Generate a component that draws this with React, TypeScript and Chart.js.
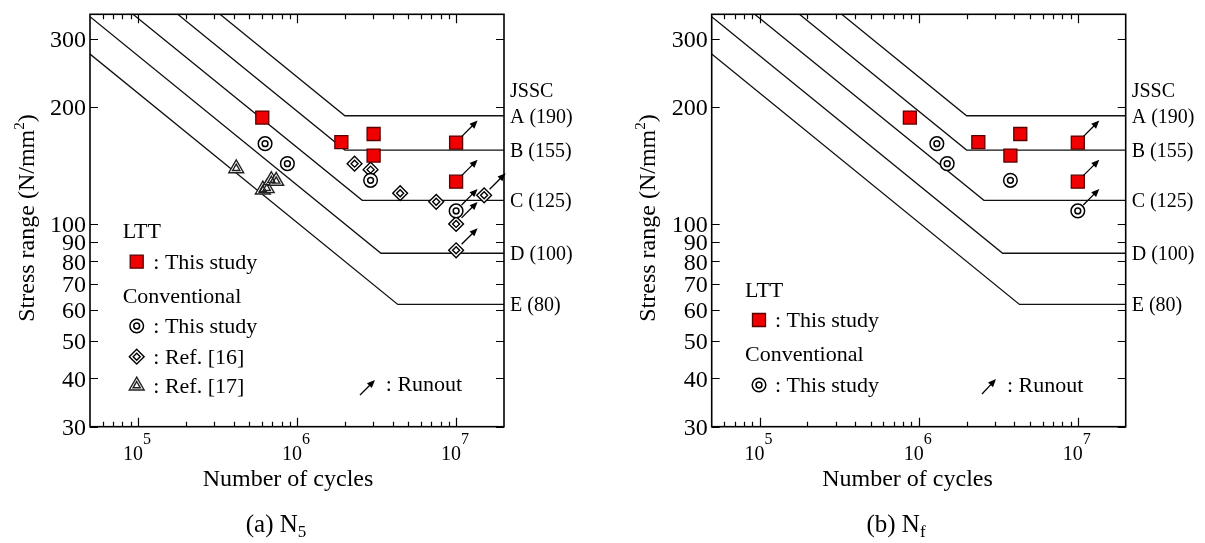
import { useEffect, useRef } from 'react';
import { Chart, registerables } from 'chart.js';

Chart.register(...registerables);

const SERIF = '"Liberation Serif", "Times New Roman", Times, serif';

// Axis ranges and tick values
const xMin = 5e4;
const xMax = 2e7;
const yMin = 30;
const yMax = 347;
const xMajorTicks = [1e5, 1e6, 1e7];
const xTickExponents = ['5', '6', '7'];
const xMinorTicks = [6e4, 7e4, 8e4, 9e4, 2e5, 3e5, 4e5, 5e5, 6e5, 7e5, 8e5, 9e5, 2e6, 3e6, 4e6, 5e6, 6e6, 7e6, 8e6, 9e6];
const yTicks = [30, 40, 50, 60, 70, 80, 90, 100, 200, 300];

// JSSC fatigue design classes
const classLabels = ['A (190)', 'B (155)', 'C (125)', 'D (100)', 'E (80)'];
const classCutoff = [190, 155, 115, 84, 62];
const classA_N = [5e4, 2e6, 2e7];
const classA_S = [650, 190, 190];
const classB_N = [5e4, 2e6, 2e7];
const classB_S = [530, 155, 155];
const classC_N = [5e4, 2.57e6, 2e7];
const classC_S = [427, 115, 115];
const classD_N = [5e4, 3.37e6, 2e7];
const classD_S = [342, 84, 84];
const classE_N = [5e4, 4.3e6, 2e7];
const classE_S = [274, 62, 62];

// LTT welded joints, this study
const lttS = [188, 162.5, 170.5, 150, 162, 128.5];
const lttN5 = [6.05e5, 1.9e6, 3.03e6, 3.03e6, 1.0e7, 1.0e7];
const lttNf = [8.8e5, 2.37e6, 4.35e6, 3.77e6, 1.0e7, 1.0e7];
const lttRunout = [false, false, false, false, true, true];

// Conventional welded joints, this study
const convS = [161, 143, 129.5, 108];
const convN5 = [6.3e5, 8.7e5, 2.9e6, 1.0e7];
const convNf = [1.3e6, 1.51e6, 3.77e6, 1.0e7];
const convRunout = [false, false, false, true];

// Conventional joints, Ref. [16]
const ref16S = [143, 138, 120, 114, 118.5, 100, 85.5];
const ref16N5 = [2.3e6, 2.9e6, 4.45e6, 7.5e6, 1.5e7, 1.0e7, 1.0e7];
const ref16Runout = [false, false, false, false, true, true, true];

// Conventional joints, Ref. [17]
const ref17S = [139, 122.5, 123.5, 129.5, 129];
const ref17N5 = [4.15e5, 6.1e5, 6.45e5, 6.9e5, 7.4e5];
const ref17Runout = [false, false, false, false, false];

type MarkerKind = 'square' | 'circle' | 'diamond' | 'triangle';

interface MarkerLayer {
  style: 'rect' | 'circle' | 'rectRot' | 'triangle';
  r: number;
  fill: string;
  stroke: string;
  lw: number;
}

// Each symbol is an outer shape plus (for open symbols) a smaller inner outline
const markerLayers: Record<MarkerKind, MarkerLayer[]> = {
  square: [{ style: 'rect', r: 9.2, fill: '#f00000', stroke: '#5a0000', lw: 1.3 }],
  circle: [
    { style: 'circle', r: 6.8, fill: '#ffffff', stroke: '#000000', lw: 1.5 },
    { style: 'circle', r: 2.9, fill: 'rgba(0,0,0,0)', stroke: '#000000', lw: 1.5 },
  ],
  diamond: [
    { style: 'rectRot', r: 7.4, fill: '#ffffff', stroke: '#000000', lw: 1.4 },
    { style: 'rectRot', r: 3.5, fill: 'rgba(0,0,0,0)', stroke: '#000000', lw: 1.4 },
  ],
  triangle: [
    { style: 'triangle', r: 8.6, fill: '#ffffff', stroke: '#222222', lw: 1.4 },
    { style: 'triangle', r: 4.2, fill: 'rgba(0,0,0,0)', stroke: '#222222', lw: 1.4 },
  ],
};

function drawLayer(ctx: CanvasRenderingContext2D, L: MarkerLayer, x: number, y: number) {
  ctx.beginPath();
  if (L.style === 'circle') {
    ctx.arc(x, y, L.r, 0, Math.PI * 2);
  } else if (L.style === 'rect') {
    const h = L.r * Math.SQRT1_2;
    ctx.rect(x - h, y - h, 2 * h, 2 * h);
  } else if (L.style === 'rectRot') {
    ctx.moveTo(x - L.r, y);
    ctx.lineTo(x, y - L.r);
    ctx.lineTo(x + L.r, y);
    ctx.lineTo(x, y + L.r);
    ctx.closePath();
  } else {
    const s = Math.sin((2 * Math.PI) / 3) * L.r;
    ctx.moveTo(x, y - L.r);
    ctx.lineTo(x + s, y + L.r / 2);
    ctx.lineTo(x - s, y + L.r / 2);
    ctx.closePath();
  }
  ctx.fillStyle = L.fill;
  ctx.fill();
  ctx.strokeStyle = L.stroke;
  ctx.lineWidth = L.lw;
  ctx.stroke();
}

interface SeriesSpec {
  n: number[];
  s: number[];
  runout: boolean[];
  marker: MarkerKind;
}

interface LegendItem {
  text: string;
  tx: number;
  ty: number;
  marker?: MarkerKind;
  mx?: number;
  my?: number;
}

interface PanelSpec {
  left: number;
  width: number;
  padding: { left: number; right: number; top: number; bottom: number };
  series: SeriesSpec[];
  legend: LegendItem[];
  runoutKey: { x0: number; y0: number; x1: number; y1: number; tx: number; ty: number };
  yTitleX: number;
  yTitleY: number;
  xTitleX: number;
  caption: string;
  captionSub: string;
  captionX: number;
}

function drawArrow(ctx: CanvasRenderingContext2D, x0: number, y0: number, x1: number, y1: number) {
  const ang = Math.atan2(y1 - y0, x1 - x0);
  const hl = 8;
  const hw = 3.4;
  const bx = x1 - hl * Math.cos(ang);
  const by = y1 - hl * Math.sin(ang);
  ctx.beginPath();
  ctx.moveTo(x0, y0);
  ctx.lineTo(bx + Math.cos(ang), by + Math.sin(ang));
  ctx.stroke();
  ctx.beginPath();
  ctx.moveTo(x1, y1);
  ctx.lineTo(bx + hw * Math.sin(ang), by - hw * Math.cos(ang));
  ctx.lineTo(bx - hw * Math.sin(ang), by + hw * Math.cos(ang));
  ctx.closePath();
  ctx.fill();
}

// Draws text pieces in a row; each piece has its own font size and baseline shift
function drawRich(
  ctx: CanvasRenderingContext2D,
  parts: { t: string; size: number; dy: number }[],
  cx: number,
  baseY: number,
) {
  let total = 0;
  const widths = parts.map((p) => {
    ctx.font = `${p.size}px ${SERIF}`;
    const w = ctx.measureText(p.t).width;
    total += w;
    return w;
  });
  let x = cx - total / 2;
  ctx.textAlign = 'left';
  ctx.textBaseline = 'alphabetic';
  parts.forEach((p, i) => {
    ctx.font = `${p.size}px ${SERIF}`;
    ctx.fillText(p.t, x, baseY + p.dy);
    x += widths[i];
  });
}

function overlayPlugin(spec: PanelSpec) {
  return {
    id: 'snOverlay',
    afterDatasetsDraw(chart: Chart) {
      const ctx = chart.ctx;
      const xs = chart.scales.x;
      const ys = chart.scales.y;
      ctx.save();
      ctx.strokeStyle = '#000';
      ctx.fillStyle = '#000';
      ctx.lineWidth = 1.3;
      spec.series.forEach((sr) => {
        sr.n.forEach((n, i) => {
          if (!sr.runout[i]) return;
          const px = xs.getPixelForValue(n);
          const py = ys.getPixelForValue(sr.s[i]);
          drawArrow(ctx, px + 5.5, py - 6, px + 21.5, py - 22);
        });
      });
      ctx.restore();
    },
    afterDraw(chart: Chart) {
      const ctx = chart.ctx;
      const a = chart.chartArea;
      const xs = chart.scales.x;
      const ys = chart.scales.y;
      ctx.save();

      // frame
      ctx.strokeStyle = '#000';
      ctx.lineWidth = 1.6;
      ctx.strokeRect(a.left, a.top, a.right - a.left, a.bottom - a.top);

      // inward tick marks
      ctx.lineWidth = 1.2;
      ctx.beginPath();
      const xTick = (v: number, len: number) => {
        const px = Math.round(xs.getPixelForValue(v)) + 0.5;
        ctx.moveTo(px, a.bottom);
        ctx.lineTo(px, a.bottom - len);
        ctx.moveTo(px, a.top);
        ctx.lineTo(px, a.top + len);
      };
      xMajorTicks.forEach((v) => xTick(v, 9));
      xMinorTicks.forEach((v) => xTick(v, 5));
      yTicks.forEach((v) => {
        const py = Math.round(ys.getPixelForValue(v)) + 0.5;
        ctx.moveTo(a.left, py);
        ctx.lineTo(a.left + 8, py);
        ctx.moveTo(a.right, py);
        ctx.lineTo(a.right - 8, py);
      });
      ctx.stroke();

      ctx.fillStyle = '#000';
      // y tick labels
      ctx.font = `24px ${SERIF}`;
      ctx.textAlign = 'right';
      ctx.textBaseline = 'alphabetic';
      yTicks.forEach((v) => {
        ctx.fillText(String(v), a.left - 4, ys.getPixelForValue(v) + 8.3);
      });

      // x tick labels: 10 with exponent
      xMajorTicks.forEach((v, i) => {
        const px = xs.getPixelForValue(v);
        drawRich(
          ctx,
          [
            { t: '10', size: 20, dy: 0 },
            { t: xTickExponents[i], size: 16, dy: -16 },
          ],
          px - 1,
          a.bottom + 33.5,
        );
      });

      // axis titles
      drawRich(ctx, [{ t: 'Number of cycles', size: 24, dy: 0 }], spec.xTitleX, a.bottom + 59.5);
      ctx.save();
      ctx.translate(spec.yTitleX, spec.yTitleY);
      ctx.rotate(-Math.PI / 2);
      drawRich(
        ctx,
        [
          { t: 'Stress range (N/mm', size: 24, dy: 0 },
          { t: '2', size: 15, dy: -10 },
          { t: ')', size: 24, dy: 0 },
        ],
        0,
        0,
      );
      ctx.restore();

      // class labels on the right
      ctx.textAlign = 'left';
      ctx.font = `20px ${SERIF}`;
      ctx.fillText('JSSC', a.right + 6, ys.getPixelForValue(classCutoff[0]) - 19);
      classLabels.forEach((lab, i) => {
        ctx.fillText(lab, a.right + 6, ys.getPixelForValue(classCutoff[i]) + 7);
      });

      // legend
      ctx.font = `22px ${SERIF}`;
      spec.legend.forEach((it) => {
        if (it.marker) {
          markerLayers[it.marker].forEach((L) => drawLayer(ctx, L, it.mx!, it.my!));
        }
        ctx.fillStyle = '#000';
        ctx.textAlign = 'left';
        ctx.font = `22px ${SERIF}`;
        ctx.fillText(it.text, it.tx, it.ty);
      });
      const rk = spec.runoutKey;
      ctx.strokeStyle = '#000';
      ctx.fillStyle = '#000';
      ctx.lineWidth = 1.3;
      drawArrow(ctx, rk.x0, rk.y0, rk.x1, rk.y1);
      ctx.font = `22px ${SERIF}`;
      ctx.fillText(': Runout', rk.tx, rk.ty);

      // panel caption
      drawRich(
        ctx,
        [
          { t: spec.caption, size: 25, dy: 0 },
          { t: spec.captionSub, size: 17, dy: 5 },
        ],
        spec.captionX,
        532,
      );
      ctx.restore();
    },
  };
}

function buildDatasets(spec: PanelSpec) {
  const classLines = [
    [classA_N, classA_S],
    [classB_N, classB_S],
    [classC_N, classC_S],
    [classD_N, classD_S],
    [classE_N, classE_S],
  ];
  const lines = classLines.map(([n, s]) => ({
    data: n.map((v, i) => ({ x: v, y: s[i] })),
    showLine: true,
    borderColor: '#111',
    borderWidth: 1.3,
    pointRadius: 0,
    fill: false,
    order: 2,
  }));
  // one dataset per marker layer; later layers drawn on top of earlier ones
  const points: any[] = [];
  spec.series.forEach((sr) => {
    markerLayers[sr.marker].forEach((L) => {
      points.unshift({
        data: sr.n.map((v, i) => ({ x: v, y: sr.s[i] })),
        showLine: false,
        pointStyle: L.style,
        pointRadius: L.r,
        pointBackgroundColor: L.fill,
        pointBorderColor: L.stroke,
        pointBorderWidth: L.lw,
        order: 0,
      });
    });
  });
  return [...points, ...lines];
}

function Panel({ spec }: { spec: PanelSpec }) {
  const ref = useRef<HTMLCanvasElement>(null);
  useEffect(() => {
    if (!ref.current) return;
    const chart = new Chart(ref.current, {
      type: 'scatter',
      data: { datasets: buildDatasets(spec) as any },
      options: {
        responsive: false,
        animation: false,
        devicePixelRatio: 1,
        events: [],
        layout: { padding: spec.padding },
        plugins: { legend: { display: false }, tooltip: { enabled: false } },
        scales: {
          x: { type: 'logarithmic', display: false, min: xMin, max: xMax, bounds: 'data' },
          y: { type: 'logarithmic', display: false, min: yMin, max: yMax, bounds: 'data' },
        },
      },
      plugins: [overlayPlugin(spec) as any],
    });
    return () => chart.destroy();
  }, [spec]);
  return (
    <canvas
      ref={ref}
      width={spec.width}
      height={543}
      style={{ position: 'absolute', left: spec.left, top: 0, width: spec.width, height: 543 }}
    />
  );
}

const panelA: PanelSpec = {
  left: 0,
  width: 600,
  padding: { left: 90, right: 96, top: 14.3, bottom: 116.3 },
  series: [
    { n: ref17N5, s: ref17S, runout: ref17Runout, marker: 'triangle' },
    { n: ref16N5, s: ref16S, runout: ref16Runout, marker: 'diamond' },
    { n: convN5, s: convS, runout: convRunout, marker: 'circle' },
    { n: lttN5, s: lttS, runout: lttRunout, marker: 'square' },
  ],
  legend: [
    { text: 'LTT', tx: 122.7, ty: 238 },
    { text: ': This study', tx: 153.3, ty: 268.5, marker: 'square', mx: 136.7, my: 261.7 },
    { text: 'Conventional', tx: 122.7, ty: 303 },
    { text: ': This study', tx: 153.3, ty: 333, marker: 'circle', mx: 136.7, my: 326 },
    { text: ': Ref. [16]', tx: 153.3, ty: 363.5, marker: 'diamond', mx: 136.7, my: 356.7 },
    { text: ': Ref. [17]', tx: 153.3, ty: 392.5, marker: 'triangle', mx: 136.7, my: 385.7 },
  ],
  runoutKey: { x0: 360, y0: 395, x1: 375, y1: 380, tx: 385.8, ty: 391 },
  yTitleX: 34,
  yTitleY: 218,
  xTitleX: 288,
  caption: '(a) N',
  captionSub: '5',
  captionX: 276,
};

const panelB: PanelSpec = {
  left: 600,
  width: 605,
  padding: { left: 111.7, right: 79.3, top: 14.3, bottom: 116.3 },
  series: [
    { n: convNf, s: convS, runout: convRunout, marker: 'circle' },
    { n: lttNf, s: lttS, runout: lttRunout, marker: 'square' },
  ],
  legend: [
    { text: 'LTT', tx: 145, ty: 297 },
    { text: ': This study', tx: 175, ty: 327, marker: 'square', mx: 159, my: 320 },
    { text: 'Conventional', tx: 145, ty: 361 },
    { text: ': This study', tx: 175, ty: 392, marker: 'circle', mx: 159, my: 385 },
  ],
  runoutKey: { x0: 382, y0: 394, x1: 396, y1: 379, tx: 407, ty: 392 },
  yTitleX: 55,
  yTitleY: 218,
  xTitleX: 307.5,
  caption: '(b) N',
  captionSub: 'f',
  captionX: 296,
};

export default function App() {
  return (
    <div style={{ position: 'absolute', left: 0, top: 0, width: 1205, height: 543, background: '#fff' }}>
      <Panel spec={panelA} />
      <Panel spec={panelB} />
    </div>
  );
}
